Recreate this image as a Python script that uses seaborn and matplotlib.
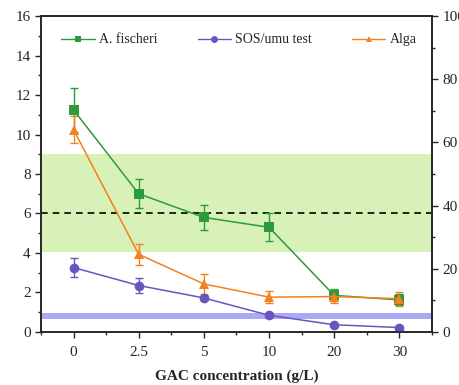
import numpy as np
import pandas as pd
import seaborn as sns
import matplotlib.pyplot as plt
from matplotlib.ticker import MultipleLocator

sns.set_style("ticks")
plt.rcParams['font.family'] = ['Liberation Serif', 'DejaVu Serif']

# GAC dose levels (g/L), plotted as evenly spaced categories
gac = ["0", "2.5", "5", "10", "20", "30"]

fischeri = [11.25, 7.0, 5.8, 5.3, 1.85, 1.62]
fischeri_err = [1.1, 0.73, 0.65, 0.7, 0.3, 0.28]

sos_umu = [3.26, 2.35, 1.72, 0.84, 0.36, 0.22]
sos_umu_err = [0.5, 0.4, 0.12, 0.08, 0.06, 0.06]

alga = [10.25, 3.93, 2.43, 1.76, 1.79, 1.68]
alga_err = [0.7, 0.53, 0.5, 0.3, 0.35, 0.35]

green_band = (4.05, 9.0)
blue_band = (0.64, 0.95)
threshold = 6.0

rows = []
for name, vals, errs in [("A. fischeri", fischeri, fischeri_err),
                         ("SOS/umu test", sos_umu, sos_umu_err),
                         ("Alga", alga, alga_err)]:
    for i, (c, v, e) in enumerate(zip(gac, vals, errs)):
        rows.append({"assay": name, "pos": i, "gac": c, "value": v, "err": e})
df = pd.DataFrame(rows)

palette = {"A. fischeri": "#2e9a3e", "SOS/umu test": "#6a55c0", "Alga": "#f5801e"}
markers = {"A. fischeri": "s", "SOS/umu test": "o", "Alga": "^"}

fig = plt.figure(figsize=(4.6, 3.85), dpi=100)
ax = fig.add_axes([0.089, 0.138, 0.85, 0.82])

ax.axhspan(*green_band, color="#d8f1b8", zorder=0, lw=0)
ax.axhspan(*blue_band, color="#aaaaf4", zorder=0, lw=0)
ax.axhline(threshold, color="black", ls=(0, (4, 3)), lw=1.2, zorder=1)

for name in ["A. fischeri", "SOS/umu test", "Alga"]:
    sub = df[df["assay"] == name]
    ax.errorbar(sub["pos"], sub["value"], yerr=sub["err"], fmt="none",
                ecolor=palette[name], elinewidth=1.0, capsize=3, capthick=1.0, zorder=2)

sns.lineplot(data=df, x="pos", y="value", hue="assay", style="assay",
             palette=palette, markers=markers, dashes=False, markersize=7,
             markeredgewidth=0, linewidth=1.1, ax=ax, zorder=3, sort=False)

ax.set_xlim(-0.5, 5.5)
ax.set_ylim(0, 16)
ax.set_xticks(range(len(gac)))
ax.set_xticklabels(gac)
ax.xaxis.set_minor_locator(MultipleLocator(0.5))
ax.yaxis.set_major_locator(MultipleLocator(2))
ax.yaxis.set_minor_locator(MultipleLocator(1))
ax.set_xlabel("GAC concentration (g/L)", fontsize=11, fontweight="bold", labelpad=8)
ax.set_ylabel("")
ax.tick_params(axis="both", which="major", labelsize=11, length=4, width=1, direction="out")
ax.tick_params(axis="both", which="minor", length=2.5, width=1, direction="out")
ax.tick_params(axis="x", pad=6)

ax2 = ax.twinx()
ax2.set_ylim(0, 100)
ax2.yaxis.set_major_locator(MultipleLocator(20))
ax2.yaxis.set_minor_locator(MultipleLocator(10))
ax2.tick_params(axis="y", which="major", labelsize=11, length=4, width=1, direction="out")
ax2.tick_params(axis="y", which="minor", length=2.5, width=1, direction="out")

for a in (ax, ax2):
    for s in a.spines.values():
        s.set_visible(True)
        s.set_linewidth(1.2)

leg = ax.legend(loc="upper left", ncol=3, frameon=False, fontsize=10,
                handlelength=2.4, columnspacing=2.9, handletextpad=0.3,
                bbox_to_anchor=(0.02, 0.985))
leg.set_title(None)
for h in leg.legend_handles:
    h.set_markersize(5)
    h.set_linewidth(1.0)

fig.savefig("out.png", dpi=100)
